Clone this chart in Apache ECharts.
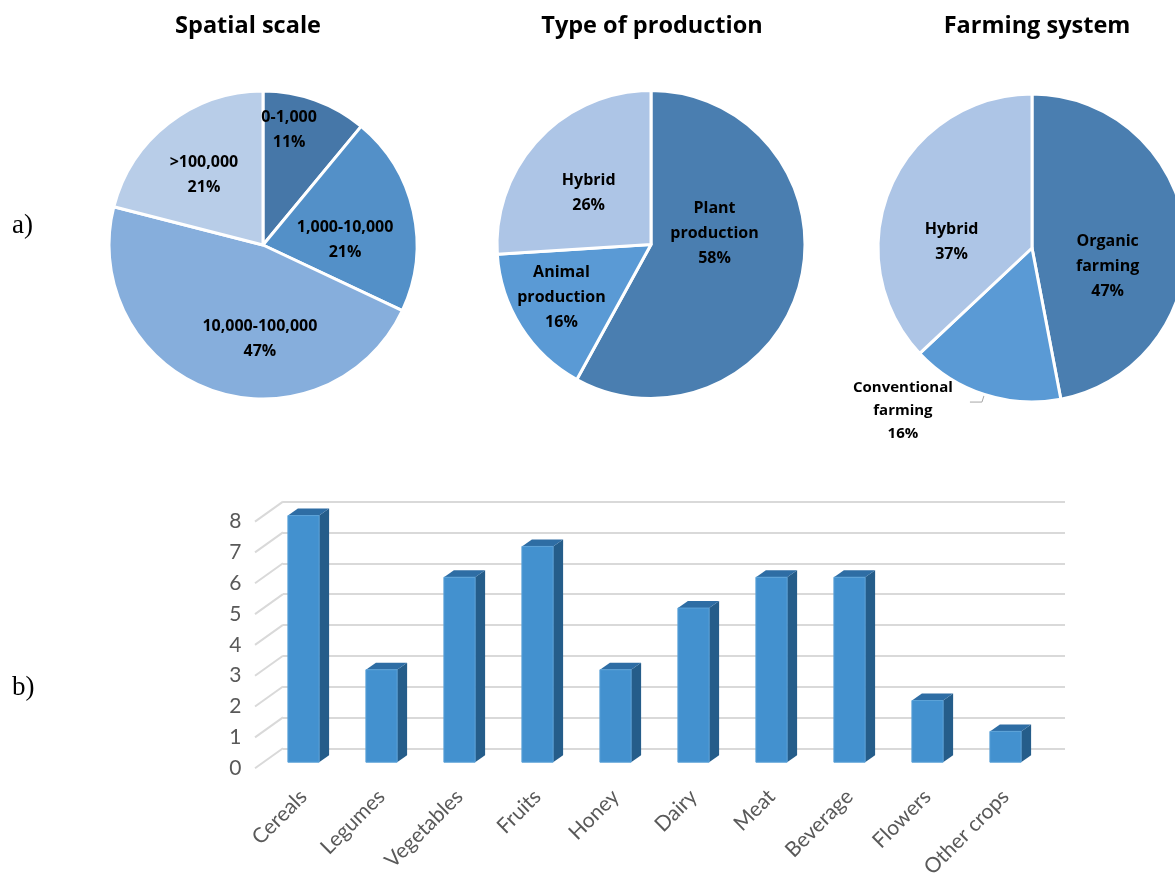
<!DOCTYPE html>
<html><head><meta charset="utf-8">
<script src="https://cdn.jsdelivr.net/npm/echarts@6/dist/echarts.min.js"></script>
<style>html,body{margin:0;padding:0;background:#fff}#c{width:1175px;height:877px}</style>
</head><body><div id="c"></div>
<script>
const spatialNames = ['0-1,000', '1,000-10,000', '10,000-100,000', '>100,000'];
const spatialValues = [11, 21, 47, 21];
const productionNames = ['Plant production', 'Animal production', 'Hybrid'];
const productionValues = [58, 16, 26];
const farmingNames = ['Organic farming', 'Conventional farming', 'Hybrid'];
const farmingValues = [47, 16, 37];
const categories = ['Cereals', 'Legumes', 'Vegetables', 'Fruits', 'Honey', 'Dairy', 'Meat', 'Beverage', 'Flowers', 'Other crops'];
const counts = [8, 3, 6, 7, 3, 5, 6, 6, 2, 1];
const yTicks = [0, 1, 2, 3, 4, 5, 6, 7, 8];

const FONT = 'Lato';
const BOLD = 'Open Sans';
const chart = echarts.init(document.getElementById('c'), null, {renderer: 'canvas'});

const pieColors = [
  ['#4677A8', '#5390C8', '#86AEDC', '#B8CDE8'],
  ['#4A7EB0', '#5A9AD5', '#ADC5E6'],
  ['#4A7EB0', '#5A9AD5', '#ADC5E6']
];
const labelShift = [
  [[-1, -40], [4, 12], [24, 19], [-10, -7]],
  [[-14, -31], [-22, 10], [-4, 3]],
  [[-4, 26], [-10, 9], [-7, 26]]
];

function pieData(names, values, colors) {
  return names.map((n, i) => ({name: n, value: values[i], itemStyle: {color: colors[i]}}));
}
function pieLabelFmt(p) {
  return p.name.replace(' ', '\n') + '\n' + p.value + '%';
}
const pieLabel = {
  show: true, position: 'inside', formatter: pieLabelFmt,
  fontFamily: BOLD, fontWeight: 'bold', fontSize: 16, lineHeight: 25, color: '#000'
};
function pieSeries(idx, names, values, center) {
  return {
    type: 'pie', radius: 154, center: center, startAngle: 90, clockwise: true,
    avoidLabelOverlap: false, animation: false,
    itemStyle: {borderColor: '#fff', borderWidth: 3},
    label: pieLabel, labelLine: {show: false},
    labelLayout: function (p) {
      const s = labelShift[idx][p.dataIndex];
      return {dx: s[0], dy: s[1]};
    },
    data: pieData(names, values, pieColors[idx])
  };
}

const farmingSeries = pieSeries(2, farmingNames, farmingValues, [1032, 248]);
farmingSeries.data[1].label = {
  position: 'outside',
  formatter: function (p) { return p.name.split(' ').map(s => '{c|' + s + '}').join('\n') + '\n{c|' + p.value + '%}'; },
  rich: {c: {width: 104, align: 'center', fontFamily: BOLD, fontWeight: 'bold', fontSize: 15, lineHeight: 23, color: '#000'}}
};
farmingSeries.data[1].labelLine = {show: true, length: 8, length2: 12, lineStyle: {color: '#a6a6a6', width: 1}};

function renderBar(params, api) {
  const i = api.value(0), v = api.value(1);
  const top = api.coord([i, v]);
  const base = api.coord([i, 0]);
  const w = api.size([1, 0])[0] * 0.4;
  const lift = 6, sx = 10, sy = 7;
  const xl = top[0] - w / 2, xr = top[0] + w / 2, yt = top[1] - lift, yb = base[1] - lift;
  return {type: 'group', children: [
    {type: 'polygon', shape: {points: [[xr, yt], [xr + sx, yt - sy], [xr + sx, yb - sy], [xr, yb]]}, style: {fill: '#255D8A'}},
    {type: 'polygon', shape: {points: [[xl, yt], [xl + sx, yt - sy], [xr + sx, yt - sy], [xr, yt]]}, style: {fill: '#2E6DA4'}},
    {type: 'rect', shape: {x: xl, y: yt, width: w, height: yb - yt}, style: {fill: '#4391CF', stroke: '#5BA2D8', lineWidth: 1}}
  ]};
}
function renderDiag(params, api) {
  const v = api.value(1);
  const p = api.coord([0, v]);
  const x0 = params.coordSys.x - 9.5;
  return {type: 'line', shape: {x1: x0, y1: p[1], x2: x0 + 28, y2: p[1] - 20}, style: {stroke: '#d9d9d9', lineWidth: 2}};
}

const titleStyle = {fontFamily: BOLD, fontWeight: 'bold', fontSize: 23.5, color: '#000'};
const option = {
  backgroundColor: '#fff',
  animation: false,
  title: [
    {text: 'Spatial scale', left: 243, top: 9, textAlign: 'center', textStyle: titleStyle},
    {text: 'Type of production', left: 647, top: 9, textAlign: 'center', textStyle: titleStyle},
    {text: 'Farming system', left: 1032, top: 9, textAlign: 'center', textStyle: titleStyle}
  ],
  graphic: [
    {type: 'text', left: 12, top: 212, style: {text: 'a)', font: '27px "Liberation Serif"', fill: '#000'}},
    {type: 'text', left: 12, top: 674, style: {text: 'b)', font: '27px "Liberation Serif"', fill: '#000'}}
  ],
  grid: [
    {left: 283, right: 110, top: 501.7, bottom: 128.7, containLabel: false, outerBoundsMode: 'none'},
    {left: 264.5, right: 130.5, top: 521.6, bottom: 108.8, containLabel: false, outerBoundsMode: 'none'}
  ],
  xAxis: [
    {gridIndex: 0, type: 'category', data: categories, show: false},
    {gridIndex: 1, type: 'category', data: categories,
      axisLine: {show: false}, axisTick: {show: false},
      axisLabel: {rotate: 45, margin: 25, interval: 0, fontFamily: FONT, fontSize: 21, color: '#595959'}}
  ],
  yAxis: [
    {gridIndex: 0, type: 'value', min: 0, max: 8, interval: 1,
      axisLine: {show: false}, axisTick: {show: false}, axisLabel: {show: false},
      splitLine: {lineStyle: {color: '#d9d9d9', width: 2}}},
    {gridIndex: 1, type: 'value', min: 0, max: 8, interval: 1,
      axisLine: {show: false}, axisTick: {show: false}, splitLine: {show: false},
      axisLabel: {margin: 23, fontFamily: FONT, fontSize: 21, color: '#595959'}}
  ],
  series: [
    pieSeries(0, spatialNames, spatialValues, [263, 245]),
    pieSeries(1, productionNames, productionValues, [651, 244.5]),
    farmingSeries,
    {type: 'custom', xAxisIndex: 1, yAxisIndex: 1, renderItem: renderDiag, encode: {x: 0, y: 1},
      data: yTicks.map(v => [0, v]), silent: true, z: 1},
    {type: 'custom', xAxisIndex: 1, yAxisIndex: 1, renderItem: renderBar, encode: {x: 0, y: 1},
      data: counts.map((v, i) => [i, v]), z: 3}
  ]
};
chart.setOption(option);
</script>
</body></html>
